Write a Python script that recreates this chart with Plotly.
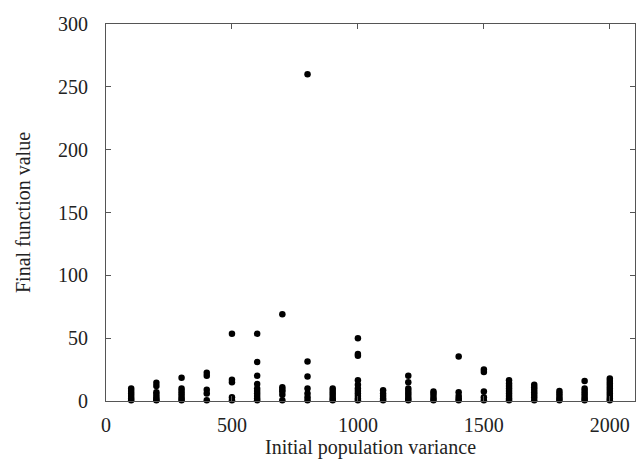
import plotly.graph_objects as go

variances = [100, 200, 300, 400, 500, 600, 700, 800, 900, 1000,
             1100, 1200, 1300, 1400, 1500, 1600, 1700, 1800, 1900, 2000]

final_values = {
    100: [0.5, 2, 4, 6, 8, 10],
    200: [0.5, 1, 3, 5, 7, 12, 14.5],
    300: [0.5, 2, 4, 6, 8, 10, 18.5],
    400: [0.5, 6, 9, 20, 22.5],
    500: [0.5, 3, 15, 17, 53.5],
    600: [0.5, 2, 4, 6, 8, 10, 13.5, 20, 31, 53.5],
    700: [0.5, 5, 7.5, 9, 11, 69],
    800: [0.5, 3, 6, 10, 19.5, 31.5, 260],
    900: [0.5, 2, 4, 6, 8, 10],
    1000: [0.5, 2, 4, 6, 8, 10, 13, 16.5, 36, 37.5, 50],
    1100: [0.5, 2, 4, 6, 8.5],
    1200: [0.5, 2, 4, 6, 8, 10, 15, 20],
    1300: [0.5, 2, 4, 6, 7.5],
    1400: [0.5, 2, 4, 7, 35.5],
    1500: [0.5, 3, 7.5, 23, 25],
    1600: [0.5, 2, 4, 6, 8, 10, 12, 14, 16.5],
    1700: [0.5, 3, 5, 7, 9, 11, 13],
    1800: [0.5, 2, 4, 6, 8],
    1900: [0.5, 2, 4, 6, 8, 10, 16],
    2000: [0.5, 2, 4, 6, 8, 10, 12, 14, 16, 18],
}

x_ticks = [0, 500, 1000, 1500, 2000]
y_ticks = [0, 50, 100, 150, 200, 250, 300]

xs, ys = [], []
for v in variances:
    for f in final_values[v]:
        xs.append(v)
        ys.append(f)

fig = go.Figure(go.Scatter(
    x=xs, y=ys, mode="markers", cliponaxis=False,
    marker=dict(color="black", size=6.5, line=dict(width=0)),
    showlegend=False,
))

font = dict(family="Liberation Serif, DejaVu Serif, serif", size=20, color="#222")
axis_common = dict(
    showgrid=False, zeroline=False, showline=True, linecolor="#555", linewidth=1,
    mirror="ticks", ticks="inside", ticklen=5, tickcolor="#555", tickwidth=1,
    tickfont=font,
)

fig.update_layout(
    width=639, height=461,
    margin=dict(l=106, r=4, t=24, b=60),
    plot_bgcolor="white", paper_bgcolor="white",
    font=font,
    xaxis=dict(range=[0, 2100], tickvals=x_ticks, ticktext=[str(t) for t in x_ticks],
               title=dict(text="Initial population variance", font=font, standoff=4),
               ticklabelstandoff=6, **axis_common),
    yaxis=dict(range=[0, 300], tickvals=y_ticks, ticktext=[str(t) for t in y_ticks],
               title=dict(text="Final function value", font=font, standoff=22),
               ticklabelstandoff=13, **axis_common),
)

fig.write_html("out.html")
